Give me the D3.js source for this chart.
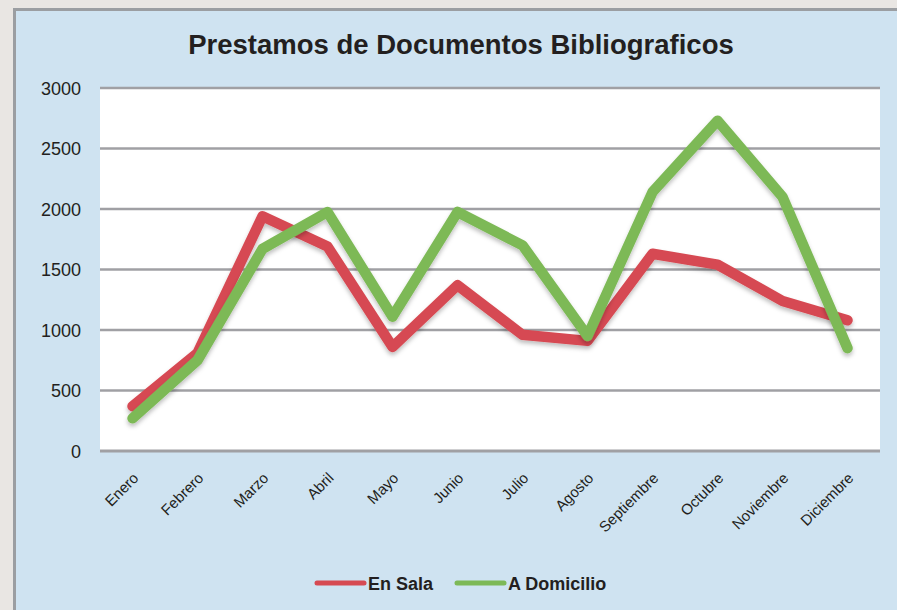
<!DOCTYPE html>
<html><head><meta charset="utf-8">
<script src="https://cdn.jsdelivr.net/npm/d3@7"></script>
<style>body{margin:0;background:#e9e6e3;}svg{display:block;font-family:"Liberation Sans",Arial,Helvetica,sans-serif;}</style>
</head><body>
<script>
const months = ["Enero","Febrero","Marzo","Abril","Mayo","Junio","Julio","Agosto","Septiembre","Octubre","Noviembre","Diciembre"];
const enSala = [370, 810, 1940, 1690, 860, 1370, 960, 910, 1630, 1540, 1240, 1080];
const aDomicilio = [270, 750, 1670, 1975, 1110, 1975, 1700, 950, 2140, 2730, 2100, 850];
const yTicks = [0, 500, 1000, 1500, 2000, 2500, 3000];
const seriesNames = ["En Sala", "A Domicilio"];
const seriesColors = ["#d64a52", "#7db957"];

const W = 897, H = 610;
const svg = d3.select("body").append("svg").attr("width", W).attr("height", H);
const defs = svg.append("defs");
const f = defs.append("filter").attr("id","sh").attr("x","-10%").attr("y","-10%").attr("width","120%").attr("height","130%");
f.append("feDropShadow").attr("dx",0).attr("dy",3).attr("stdDeviation",2).attr("flood-color","#000").attr("flood-opacity",0.25);

// panel
svg.append("rect").attr("x",14.5).attr("y",9.5).attr("width",W).attr("height",H).attr("fill","#cfe3f1").attr("stroke","#9b9ea2").attr("stroke-width",3);

const L = 100, R = 880, T = 88, B = 451;
svg.append("rect").attr("x",L).attr("y",T).attr("width",R-L).attr("height",B-T).attr("fill","#fff");

const x = d3.scaleBand().domain(months).range([L, R]);
const y = d3.scaleLinear().domain([0, 3000]).range([B, T]);

// grid
svg.append("g").selectAll("line").data(yTicks).join("line")
  .attr("x1", L).attr("x2", R).attr("y1", d => y(d)).attr("y2", d => y(d))
  .attr("stroke", "#a0a0a4").attr("stroke-width", d => d === 0 ? 3 : 2.5);

// y axis
const yAxis = d3.axisLeft(y).tickValues(yTicks).tickFormat(d3.format("d")).tickSize(0).tickPadding(19);
const ga = svg.append("g").attr("transform", `translate(${L},0)`).call(yAxis);
ga.select(".domain").remove();
ga.selectAll("text").attr("font-size", 18).attr("fill", "#231f20").attr("font-family","Liberation Sans, Arial, sans-serif").attr("dy","0.35em");

// x axis
const xAxis = d3.axisBottom(x).tickSize(0).tickPadding(0);
const gx = svg.append("g").attr("transform", `translate(0,${B})`).call(xAxis);
gx.select(".domain").remove();
gx.selectAll("text").attr("font-size", 15).attr("fill", "#231f20").attr("font-family","Liberation Sans, Arial, sans-serif")
  .attr("text-anchor","end").attr("dy",null).attr("y",null)
  .attr("transform","translate(7,28) rotate(-45)");

// lines
const line = d3.line().x((d,i) => x(months[i]) + x.bandwidth()/2).y(d => y(d));
[enSala, aDomicilio].forEach((s, k) => {
  svg.append("path").datum(s).attr("d", line).attr("fill","none")
    .attr("stroke", seriesColors[k]).attr("stroke-width", 10.5)
    .attr("stroke-linejoin","round").attr("stroke-linecap","round").attr("filter","url(#sh)");
});

// title
svg.append("text").attr("x", 461).attr("y", 54).attr("text-anchor","middle")
  .attr("font-size", 27.5).attr("font-weight","bold").attr("fill","#231f20")
  .text("Prestamos de Documentos Bibliograficos");

// legend
const legX = [317, 457];
seriesNames.forEach((n, k) => {
  const g = svg.append("g").attr("transform", `translate(${legX[k]},583)`);
  g.append("line").attr("x1",0).attr("x2",47).attr("stroke",seriesColors[k]).attr("stroke-width",5).attr("stroke-linecap","round");
  g.append("text").attr("x",51).attr("y",6.5).attr("font-size",18).attr("font-weight","bold").attr("fill","#231f20").text(n);
});
</script>
</body></html>
